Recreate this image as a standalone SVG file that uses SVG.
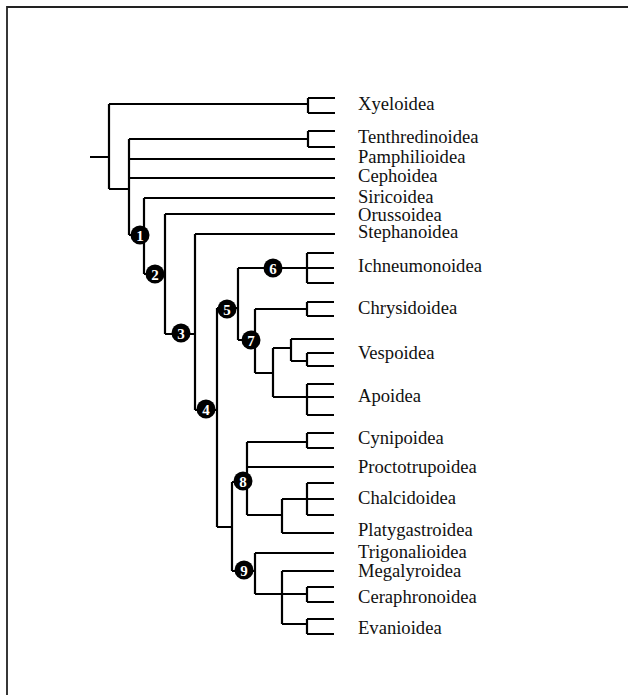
<svg xmlns="http://www.w3.org/2000/svg" width="628" height="695" viewBox="0 0 628 695">
<style>
.e{fill:none;stroke:#000;stroke-width:2.2;stroke-linejoin:miter;stroke-linecap:butt}
.t{font-family:"Liberation Serif","Times New Roman",serif;font-size:18.6px;fill:#111}
.n circle{fill:#000}
.n text{font-family:"Liberation Serif","Times New Roman",serif;font-size:15px;font-weight:bold;fill:#fff;text-anchor:middle}
.f{fill:none;stroke:#222;stroke-width:1.8}
</style>
<rect width="628" height="695" fill="#fff"/>
<path class="f" d="M7 695 V7 H628"/>
<g id="connectors" class="e">
<path d="M90 157 H109 M109 104 V189 M109 104 H308 M308 98 V113 M308 98 H335 M308 113 H335"/>
<path d="M109 189 H129 M129 139 V235 M129 139 H308 M308 131 V147 M308 131 H335 M308 147 H335"/>
<path d="M129 159 H335 M129 178 H335"/>
<path d="M129 235 H144 M144 198 V274 M144 198 H335"/>
<path d="M144 274 H165 M165 214 V334 M165 214 H335"/>
<path d="M165 334 H195 M195 234 V410 M195 234 H335"/>
<path d="M195 410 H217 M217 308 V527"/>
<path d="M217 308 H238 M238 268 V340"/>
<path d="M238 268 H307 M307 253 V283 M307 253 H334 M307 268 H334 M307 283 H334"/>
<path d="M238 340 H255 M255 309 V373"/>
<path d="M255 309 H307 M307 302 V316 M307 302 H334 M307 316 H334"/>
<path d="M255 373 H273 M273 348 V397 M273 348 H291 M291 339 V361 M291 339 H334 M291 361 H307 M307 353 V366 M307 353 H334 M307 366 H334"/>
<path d="M273 397 H307 M307 384 V415 M307 384 H334 M307 397 H334 M307 415 H334"/>
<path d="M217 527 H232 M232 482 V571"/>
<path d="M232 482 H247 M247 442 V515 M247 442 H307 M307 433 V448 M307 433 H334 M307 448 H334 M247 467 H334"/>
<path d="M247 515 H282 M282 499 V533 M282 499 H307 M307 483 V515 M307 483 H334 M307 499 H334 M307 515 H334 M282 533 H334"/>
<path d="M232 571 H255 M255 553 V594 M255 553 H334 M255 594 H282 M282 571 V624 M282 571 H334"/>
<path d="M282 594 H307 M307 587 V602 M307 587 H334 M307 602 H334 M282 624 H307 M307 619 V634 M307 619 H334 M307 634 H334"/>
</g>
<g id="node1" class="n"><circle cx="140" cy="235" r="9.5"/><text x="140" y="240.5">1</text></g>
<g id="node2" class="n"><circle cx="155" cy="274" r="9.5"/><text x="155" y="279.5">2</text></g>
<g id="node3" class="n"><circle cx="181" cy="333" r="9.5"/><text x="181" y="338.5">3</text></g>
<g id="node4" class="n"><circle cx="206" cy="409" r="9.5"/><text x="206" y="414.5">4</text></g>
<g id="node5" class="n"><circle cx="227" cy="309" r="9.5"/><text x="227" y="314.5">5</text></g>
<g id="node6" class="n"><circle cx="273" cy="268" r="9.5"/><text x="273" y="273.5">6</text></g>
<g id="node7" class="n"><circle cx="251" cy="340" r="9.5"/><text x="251" y="345.5">7</text></g>
<g id="node8" class="n"><circle cx="243" cy="481" r="9.5"/><text x="243" y="486.5">8</text></g>
<g id="node9" class="n"><circle cx="244" cy="570" r="9.5"/><text x="244" y="575.5">9</text></g>
<g id="labels" class="t">
<text x="358" y="110">Xyeloidea</text>
<text x="358" y="143">Tenthredinoidea</text>
<text x="358" y="162.7">Pamphilioidea</text>
<text x="358" y="182">Cephoidea</text>
<text x="358" y="202.5">Siricoidea</text>
<text x="358" y="220.5">Orussoidea</text>
<text x="358" y="238">Stephanoidea</text>
<text x="358" y="272.3">Ichneumonoidea</text>
<text x="358" y="314">Chrysidoidea</text>
<text x="358" y="359">Vespoidea</text>
<text x="358" y="402">Apoidea</text>
<text x="358" y="444.3">Cynipoidea</text>
<text x="358" y="472.7">Proctotrupoidea</text>
<text x="358" y="504">Chalcidoidea</text>
<text x="358" y="536">Platygastroidea</text>
<text x="358" y="557.7">Trigonalioidea</text>
<text x="358" y="577">Megalyroidea</text>
<text x="358" y="603">Ceraphronoidea</text>
<text x="358" y="634">Evanioidea</text>
</g>
</svg>
